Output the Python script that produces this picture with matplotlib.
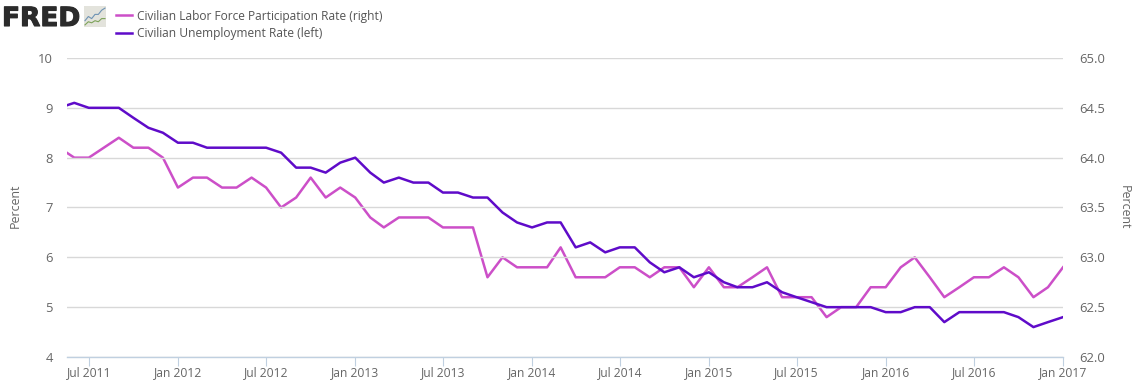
import pandas as pd
import matplotlib
matplotlib.use("Agg")
import matplotlib.pyplot as plt
import matplotlib.dates as mdates
import matplotlib.patheffects as pe

plt.rcParams['font.family'] = ['Open Sans', 'DejaVu Sans']

months = pd.date_range("2011-05-01", "2017-01-01", freq="MS")

unemployment = [9.0, 9.1, 9.0, 9.0, 9.0, 8.8, 8.6, 8.5,
                8.3, 8.3, 8.2, 8.2, 8.2, 8.2, 8.2, 8.1, 7.8, 7.8, 7.7, 7.9,
                8.0, 7.7, 7.5, 7.6, 7.5, 7.5, 7.3, 7.3, 7.2, 7.2, 6.9, 6.7,
                6.6, 6.7, 6.7, 6.2, 6.3, 6.1, 6.2, 6.2, 5.9, 5.7, 5.8, 5.6,
                5.7, 5.5, 5.4, 5.4, 5.5, 5.3, 5.2, 5.1, 5.0, 5.0, 5.0, 5.0,
                4.9, 4.9, 5.0, 5.0, 4.7, 4.9, 4.9, 4.9, 4.9, 4.8, 4.6, 4.7,
                4.8]
participation = [64.1, 64.0, 64.0, 64.1, 64.2, 64.1, 64.1, 64.0,
                 63.7, 63.8, 63.8, 63.7, 63.7, 63.8, 63.7, 63.5, 63.6, 63.8, 63.6, 63.7,
                 63.6, 63.4, 63.3, 63.4, 63.4, 63.4, 63.3, 63.3, 63.3, 62.8, 63.0, 62.9,
                 62.9, 62.9, 63.1, 62.8, 62.8, 62.8, 62.9, 62.9, 62.8, 62.9, 62.9, 62.7,
                 62.9, 62.7, 62.7, 62.8, 62.9, 62.6, 62.6, 62.6, 62.4, 62.5, 62.5, 62.7,
                 62.7, 62.9, 63.0, 62.8, 62.6, 62.7, 62.8, 62.8, 62.9, 62.8, 62.6, 62.7,
                 62.9]

left_ticks = [4, 5, 6, 7, 8, 9, 10]
right_ticks = [62.0, 62.5, 63.0, 63.5, 64.0, 64.5, 65.0]
date_ticks = pd.date_range("2011-07-01", "2017-01-01", freq="6MS")

W, H = 1136, 387
L, R, T, B = 67, 1063, 58, 357
PINK = "#cc4fc8"
PURPLE = "#5f0bc9"
GREY = "#666666"

fig = plt.figure(figsize=(W / 100, H / 100), dpi=100)
ax = fig.add_axes([L / W, 1 - B / H, (R - L) / W, (B - T) / H])
ax2 = ax.twinx()

ax.plot([], [], color=PINK, lw=1.8, label="Civilian Labor Force Participation Rate (right)")
ax.plot(months, unemployment, color=PURPLE, lw=1.8, label="Civilian Unemployment Rate (left)", zorder=4)
ax2.plot(months, participation, color=PINK, lw=1.8, zorder=2)
# unemployment line goes on top of the right axis series
ax.set_zorder(ax2.get_zorder() + 1)
ax.patch.set_visible(False)

ax.set_xlim(pd.Timestamp("2011-05-17"), pd.Timestamp("2017-01-01"))
ax.set_ylim(4, 10)
ax2.set_ylim(62, 65)

ax.set_yticks(left_ticks)
ax2.set_yticks(right_ticks)
ax2.set_yticklabels(["%.1f" % v for v in right_ticks])
ax.set_xticks(date_ticks)
ax.xaxis.set_major_formatter(mdates.DateFormatter("%b %Y"))

ax.grid(axis="y", color="#d8d8d8", lw=1)
ax.set_axisbelow(True)
for a in (ax, ax2):
    for s in a.spines.values():
        s.set_visible(False)
ax.spines["bottom"].set_visible(True)
ax.spines["bottom"].set_color("#c0d0e0")
ax.spines["bottom"].set_linewidth(1)

ax.tick_params(axis="x", color="#c0d0e0", length=6.5, width=0.8, labelsize=8.7, labelcolor=GREY, pad=0)
ax.tick_params(axis="y", length=0, labelsize=9.4, labelcolor=GREY, pad=10)
ax2.tick_params(axis="y", length=0, labelsize=9.4, labelcolor=GREY, pad=11.5)

fig.text(15 / W, 1 - 206 / H, "Percent", rotation=90, ha="center", va="center", fontsize=8.9, color=GREY)
fig.text(1124 / W, 1 - 207 / H, "Percent", rotation=270, ha="center", va="center", fontsize=8.9, color=GREY)

fig.legend(*ax.get_legend_handles_labels(), loc="upper left", bbox_to_anchor=(112 / W, 1 - 6 / H),
           frameon=False, fontsize=8.65, labelcolor="#555555", handlelength=1.35, handletextpad=0.4,
           labelspacing=0.38, borderpad=0.3, borderaxespad=0)

# FRED logo
fig.text(2 / W, 1 - 26 / H, "FRED", fontsize=19, fontweight="bold", family="DejaVu Sans",
         color="#2b2b2b", ha="left", va="baseline",
         path_effects=[pe.withStroke(linewidth=0.8, foreground="#2b2b2b")])
icon = fig.add_axes([84 / W, 1 - 27 / H, 22 / W, 21 / H])
icon.set_facecolor("#e3e3dc")
icon.set_xticks([])
icon.set_yticks([])
for s in icon.spines.values():
    s.set_visible(False)
icon.plot([0, 1, 2, 3, 4, 5, 6], [3, 5, 4, 6, 6, 8, 9], color="#6f93b4", lw=0.8)
icon.plot([0, 1, 2, 3, 4, 5, 6], [1, 2.5, 2, 3, 2.5, 4, 4], color="#7da35a", lw=0.8)
icon.set_ylim(0, 10)

fig.savefig("out.png", dpi=100)
